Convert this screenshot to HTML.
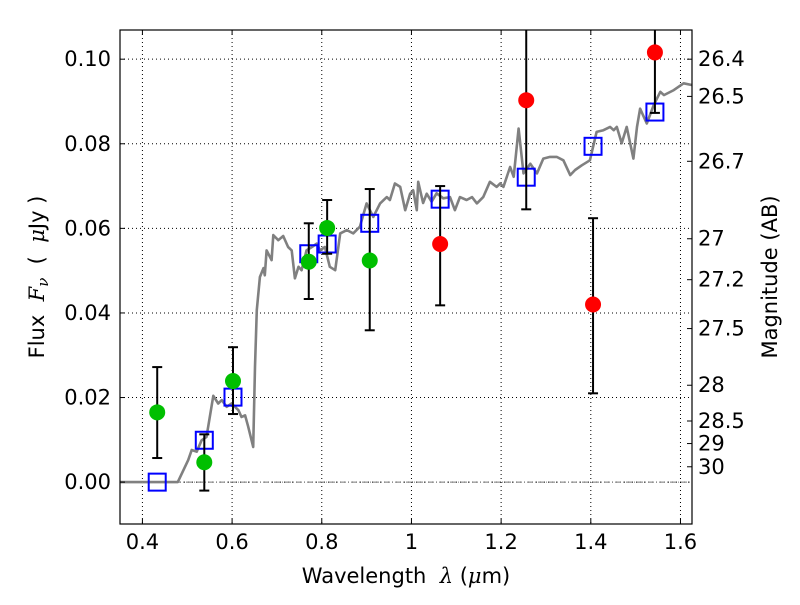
<!DOCTYPE html>
<html><head><meta charset="utf-8"><style>
html,body{margin:0;padding:0;background:#fff;}
svg text{font-family:"DejaVu Sans","Liberation Sans",sans-serif;font-size:21px;fill:#000;}
</style></head><body>
<svg id="chart" width="800" height="600" viewBox="0 0 800 600" xmlns="http://www.w3.org/2000/svg">
<rect width="800" height="600" fill="#fff"/>
<g id="grid"></g>
<g id="spec"></g>
<g id="marks"></g>
<g id="axes"></g>
<text x="406" y="583" text-anchor="middle">Wavelength&#160;&#160;<tspan font-style="italic" font-family="DejaVu Serif">λ</tspan> (<tspan font-style="italic" font-family="DejaVu Serif">μ</tspan>m)</text>
<text transform="translate(44,277) rotate(-90)" text-anchor="middle">Flux&#160;&#160;<tspan font-style="italic" font-family="DejaVu Serif">F</tspan><tspan font-style="italic" font-family="DejaVu Serif" font-size="15" dy="4">ν</tspan><tspan dy="-4">&#160;&#160;(&#160;&#160;</tspan><tspan font-style="italic" font-family="DejaVu Serif">μ</tspan>Jy )</text>
<text transform="translate(777,277) rotate(-90)" text-anchor="middle">Magnitude (AB)</text>
</svg>
<script>
const specWl=[0.350,0.479,0.502,0.510,0.521,0.532,0.543,0.558,0.569,0.577,0.588,0.599,0.614,0.621,0.629,0.636,0.647,0.651,0.655,0.662,0.670,0.673,0.677,0.688,0.692,0.703,0.714,0.725,0.733,0.740,0.748,0.755,0.766,0.778,0.789,0.796,0.807,0.818,0.830,0.841,0.856,0.870,0.885,0.900,0.915,0.930,0.945,0.952,0.963,0.975,0.986,0.997,1.004,1.012,1.015,1.026,1.034,1.045,1.056,1.071,1.086,1.097,1.108,1.123,1.135,1.146,1.160,1.175,1.190,1.198,1.205,1.220,1.228,1.239,1.250,1.265,1.280,1.294,1.309,1.324,1.339,1.354,1.365,1.380,1.398,1.413,1.428,1.443,1.451,1.458,1.469,1.480,1.495,1.503,1.510,1.525,1.540,1.555,1.563,1.585,1.607,1.625];
const specFlux=[0,0,0.0052,0.0076,0.0072,0.0099,0.0107,0.0204,0.0186,0.0194,0.0178,0.0186,0.0170,0.0154,0.0158,0.0131,0.0083,0.0273,0.0407,0.0485,0.0506,0.0489,0.0548,0.0525,0.0584,0.0572,0.0582,0.0556,0.0548,0.0482,0.0509,0.0501,0.0548,0.0556,0.0564,0.0548,0.0556,0.0509,0.0501,0.0588,0.0596,0.0588,0.0604,0.0659,0.0627,0.0659,0.0674,0.0667,0.0706,0.0698,0.0643,0.0682,0.0690,0.0643,0.0710,0.0660,0.0682,0.0663,0.0683,0.0671,0.0674,0.0643,0.0674,0.0667,0.0674,0.0659,0.0674,0.0710,0.0698,0.0706,0.0698,0.0745,0.0722,0.0836,0.0730,0.0753,0.0730,0.0765,0.0769,0.0769,0.0761,0.0726,0.0738,0.0749,0.0761,0.0828,0.0832,0.0840,0.0832,0.0840,0.0801,0.0840,0.0765,0.0840,0.0883,0.0848,0.0891,0.0923,0.0915,0.0927,0.0943,0.0939];
const bandWl=[0.433,0.538,0.602,0.771,0.812,0.907,1.064,1.256,1.405,1.543];
const obsFlux=[0.0165,0.0047,0.0239,0.0521,0.0601,0.0524,0.0563,0.0903,0.0420,0.1016];
const errLo=[0.0057,-0.0020,0.0161,0.0433,0.0540,0.0359,0.0418,0.0645,0.0210,0.0873];
const errHi=[0.0272,0.0113,0.0319,0.0612,0.0667,0.0693,0.0700,0.1200,0.0624,0.1200];
const obsColor=['#00bf00','#00bf00','#00bf00','#00bf00','#00bf00','#00bf00','#ff0000','#ff0000','#ff0000','#ff0000'];
const modelFlux=[0.0000,0.0099,0.0201,0.0540,0.0563,0.0612,0.0669,0.0721,0.0794,0.0875];
const xTicks=[0.4,0.6,0.8,1.0,1.2,1.4,1.6];
const xTickLabels=['0.4','0.6','0.8','1','1.2','1.4','1.6'];
const yTicks=[0,0.02,0.04,0.06,0.08,0.10];
const yTickLabels=['0.00','0.02','0.04','0.06','0.08','0.10'];
const magTicks=[26.4,26.5,26.7,27,27.2,27.5,28,28.5,29,30];

const L=120,R=692,T=30,B=524,X0=0.35,X1=1.6257,Y0=-0.0099,Y1=0.1069;
const NS='http://www.w3.org/2000/svg';
function sx(v){return L+(v-X0)/(X1-X0)*(R-L);}
function sy(v){return B-(v-Y0)/(Y1-Y0)*(B-T);}
function mk(tag,attrs,parent){const e=document.createElementNS(NS,tag);for(const k in attrs)e.setAttribute(k,attrs[k]);parent.appendChild(e);return e;}
const grid=document.getElementById('grid'),spec=document.getElementById('spec'),marks=document.getElementById('marks'),axes=document.getElementById('axes');

xTicks.forEach((v,i)=>{const x=sx(v);
 const g=mk('line',{x1:x,x2:x,y1:T,y2:B,stroke:'#000','stroke-width':1,'stroke-dasharray':'1,3'},grid);
 
 
 mk('line',{x1:x,x2:x,y1:B,y2:B-5,stroke:'#000'},axes);
 mk('line',{x1:x,x2:x,y1:T,y2:T+5,stroke:'#000'},axes);
 const t=mk('text',{x:x,y:B+25,'text-anchor':'middle'},axes);t.textContent=xTickLabels[i];
 
 
});
yTicks.forEach((v,i)=>{const y=sy(v);
 const g=mk('line',{x1:L,x2:R,y1:y,y2:y,stroke:'#000','stroke-width':1,'stroke-dasharray':'1,3'},grid);
 
 
 mk('line',{x1:L,x2:L+5,y1:y,y2:y,stroke:'#000'},axes);
 const t=mk('text',{x:L-9,y:y+7,'text-anchor':'end'},axes);t.textContent=yTickLabels[i];
 
 
});
const z=mk('line',{x1:L,x2:R,y1:sy(0),y2:sy(0),stroke:'#777','stroke-width':1,'stroke-dasharray':'6,2,1,2'},grid);


magTicks.forEach(m=>{const y=sy(Math.pow(10,(23.9-m)/2.5));
 mk('line',{x1:R,x2:R-5,y1:y,y2:y,stroke:'#000'},axes);
 const t=mk('text',{x:R+6,y:y+7,'text-anchor':'start'},axes);t.textContent=String(m);
 
 
});
const fr=mk('rect',{x:L,y:T,width:R-L,height:B-T,fill:'none',stroke:'#000','stroke-width':1.2},axes);



let d='';specWl.forEach((w,i)=>{d+=(i?'L':'M')+sx(w).toFixed(1)+','+sy(specFlux[i]).toFixed(1);});
const sp=mk('path',{d:d,fill:'none',stroke:'#808080','stroke-width':2.6,'stroke-linejoin':'round'},spec);



bandWl.forEach((w,i)=>{const x=sx(w);
 const s=mk('rect',{x:x-8.5,y:sy(modelFlux[i])-8.5,width:17,height:17,fill:'none',stroke:'#0000ff','stroke-width':2},marks);
 
 
});
bandWl.forEach((w,i)=>{const x=sx(w);
 const y1=Math.max(sy(errHi[i]),T),y2=sy(errLo[i]);
 const e=mk('line',{x1:x,x2:x,y1:y1,y2:y2,stroke:'#000','stroke-width':2},marks);
 
 
 if(sy(errHi[i])>T)mk('line',{x1:x-5,x2:x+5,y1:y1,y2:y1,stroke:'#000','stroke-width':2},marks);
 mk('line',{x1:x-5,x2:x+5,y1:y2,y2:y2,stroke:'#000','stroke-width':2},marks);
 const c=mk('circle',{cx:x,cy:sy(obsFlux[i]),r:8,fill:obsColor[i]},marks);
 
 
});
</script>
</body></html>
